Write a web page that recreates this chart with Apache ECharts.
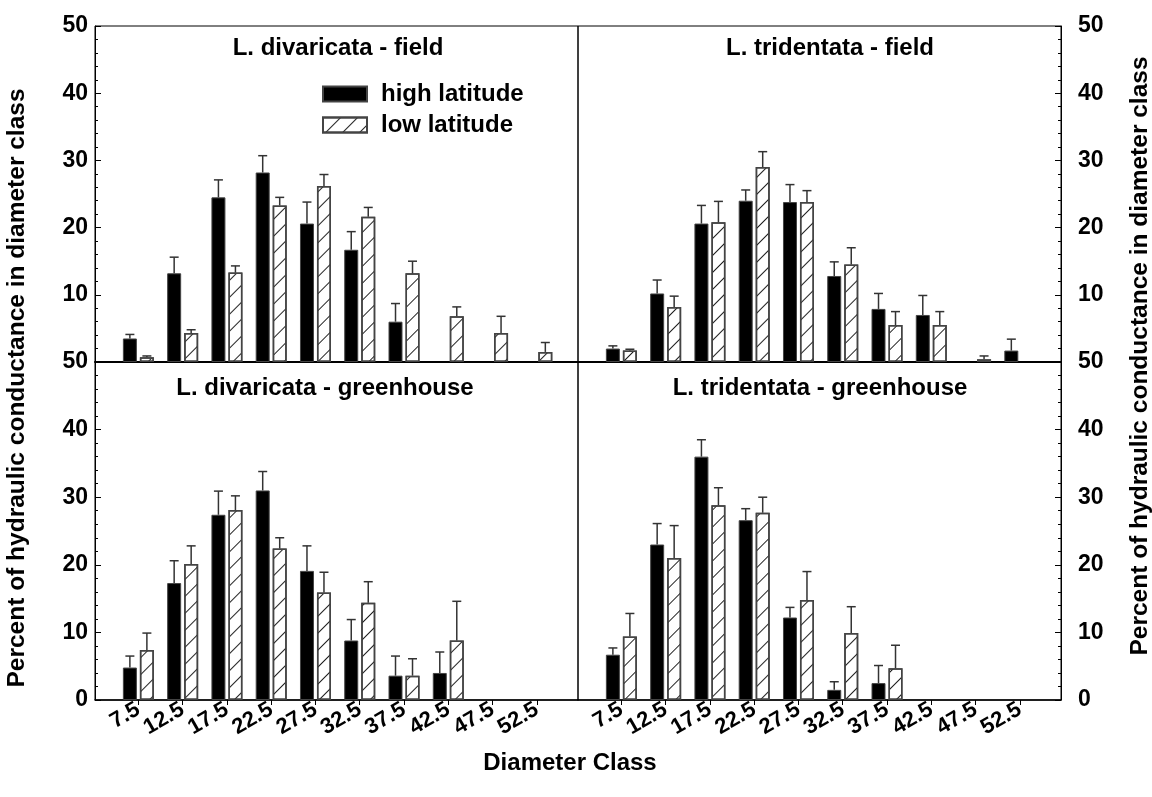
<!DOCTYPE html>
<html>
<head>
<meta charset="utf-8">
<script src="https://cdn.jsdelivr.net/npm/echarts@6/dist/echarts.min.js"></script>
<style>
  html, body { margin: 0; padding: 0; background: #fff; }
  #chart { width: 1152px; height: 797px; }
</style>
</head>
<body>
<div id="chart"></div>
<script>
// Vessel diameter classes (x axis tick labels)
const diameterClasses = [7.5, 12.5, 17.5, 22.5, 27.5, 32.5, 37.5, 42.5, 47.5, 52.5];
const seriesNames = ['high latitude', 'low latitude'];

// L. divaricata - field
const divFieldHigh    = [3.5, 13.2, 24.5, 28.2, 20.6, 16.7, 6.0, null, null, null];
const divFieldHighErr = [0.6, 2.4, 2.6, 2.5, 3.2, 2.7, 2.7, null, null, null];
const divFieldLow     = [0.7, 4.3, 13.3, 23.3, 26.2, 21.6, 13.2, 6.8, 4.3, 1.5];
const divFieldLowErr  = [0.2, 0.5, 1.0, 1.2, 1.7, 1.4, 1.8, 1.4, 2.5, 1.4];

// L. tridentata - field
const triFieldHigh    = [2.0, 10.2, 20.6, 24.0, 23.8, 12.8, 7.9, 7.0, null, 1.7];
const triFieldHighErr = [0.4, 2.0, 2.7, 1.6, 2.6, 2.1, 2.3, 2.9, null, 1.7];
const triFieldLow     = [1.7, 8.2, 20.8, 29.0, 23.8, 14.5, 5.5, 5.5, 0.4, null];
const triFieldLowErr  = [0.2, 1.6, 3.1, 2.3, 1.7, 2.5, 2.0, 2.0, 0.5, null];

// L. divaricata - greenhouse
const divGreenHigh    = [4.8, 17.3, 27.4, 31.0, 19.1, 8.8, 3.6, 4.0, null, null];
const divGreenHighErr = [1.7, 3.3, 3.5, 2.8, 3.7, 3.1, 2.9, 3.1, null, null];
const divGreenLow     = [7.4, 20.1, 28.1, 22.4, 15.9, 14.4, 3.6, 8.8, null, null];
const divGreenLowErr  = [2.5, 2.7, 2.1, 1.6, 3.0, 3.1, 2.5, 5.8, null, null];

// L. tridentata - greenhouse
const triGreenHigh    = [6.7, 23.0, 36.0, 26.6, 12.2, 1.5, 2.5, null, null, null];
const triGreenHighErr = [1.0, 3.1, 2.5, 1.7, 1.5, 1.2, 2.6, null, null, null];
const triGreenLow     = [9.4, 21.0, 28.8, 27.7, 14.8, 9.9, 4.7, null, null, null];
const triGreenLowErr  = [3.4, 4.8, 2.6, 2.3, 4.2, 3.9, 3.4, null, null, null];

const FONT = '"Liberation Sans", Arial, sans-serif';
const BAR_W = 14;
const BAR_GAP_PX = 3;

const panels = [
  { title: 'L. divaricata - field',      high: divFieldHigh, highErr: divFieldHighErr, low: divFieldLow, lowErr: divFieldLowErr, grid: { left: 95,  top: 26,  width: 483, height: 336 }, side: 'left',  top: true,  titlePos: [338, 48] },
  { title: 'L. tridentata - field',      high: triFieldHigh, highErr: triFieldHighErr, low: triFieldLow, lowErr: triFieldLowErr, grid: { left: 578, top: 26,  width: 483, height: 336 }, side: 'right', top: true,  titlePos: [830, 48] },
  { title: 'L. divaricata - greenhouse', high: divGreenHigh, highErr: divGreenHighErr, low: divGreenLow, lowErr: divGreenLowErr, grid: { left: 95,  top: 362, width: 483, height: 338 }, side: 'left',  top: false, titlePos: [325, 388] },
  { title: 'L. tridentata - greenhouse', high: triGreenHigh, highErr: triGreenHighErr, low: triGreenLow, lowErr: triGreenLowErr, grid: { left: 578, top: 362, width: 483, height: 338 }, side: 'right', top: false, titlePos: [820, 388] }
];

// Forward-slash hatching for the low latitude bars
const hatch = {
  symbol: 'rect',
  symbolSize: 1,
  color: '#222',
  dashArrayX: [1, 0],
  dashArrayY: [1, 11],
  rotation: -Math.PI / 4
};

const grids = [], xAxes = [], yAxes = [], series = [], graphics = [];

panels.forEach((p, i) => {
  grids.push(Object.assign({ show: true, borderColor: '#000', borderWidth: 1, backgroundColor: 'transparent' }, p.grid));

  xAxes.push({
    type: 'value', gridIndex: i, min: 2.6, max: 57.15,
    splitLine: { show: false },
    axisLine: { onZero: false, lineStyle: { color: '#000', width: p.top ? 2 : 1.5 } },
    axisTick: p.top ? { show: false } : { show: true, customValues: diameterClasses, length: 5, lineStyle: { color: '#000' } },
    axisLabel: p.top ? { show: false } : {
      show: true, customValues: diameterClasses, rotate: 30, margin: 8,
      fontSize: 22, fontWeight: 'bold', fontFamily: FONT, color: '#000'
    }
  });

  yAxes.push({
    type: 'value', gridIndex: i, min: 0, max: 50, interval: 10, position: p.side,
    splitLine: { show: false },
    axisLine: { show: true, lineStyle: { color: '#000', width: 1 } },
    axisTick: { show: true, inside: true, length: 6, lineStyle: { color: '#000' } },
    minorTick: { show: true, splitNumber: 5, length: 3, lineStyle: { color: '#000' } },
    axisLabel: {
      show: true, showMinLabel: !p.top, margin: p.side === 'left' ? 7 : 17,
      fontSize: 23, fontWeight: 'bold', fontFamily: FONT, color: '#000'
    }
  });

  series.push({
    name: seriesNames[0], type: 'bar', xAxisIndex: i, yAxisIndex: i,
    barWidth: BAR_W, barGap: (BAR_GAP_PX / BAR_W * 100) + '%',
    itemStyle: { color: '#000', borderColor: '#444', borderWidth: 1 },
    data: diameterClasses.map((d, j) => [d, p.high[j]])
  });
  series.push({
    name: seriesNames[1], type: 'bar', xAxisIndex: i, yAxisIndex: i,
    barWidth: BAR_W, barGap: (BAR_GAP_PX / BAR_W * 100) + '%',
    itemStyle: { color: '#fff', borderColor: '#444', borderWidth: 1.5, decal: hatch },
    data: diameterClasses.map((d, j) => [d, p.low[j]])
  });

  // Upper error whiskers, side -1 = high latitude bar, +1 = low latitude bar
  const errData = [];
  diameterClasses.forEach((d, j) => {
    if (p.high[j] != null && p.highErr[j] != null) errData.push([d, p.high[j], p.highErr[j], -1]);
    if (p.low[j] != null && p.lowErr[j] != null) errData.push([d, p.low[j], p.lowErr[j], 1]);
  });
  series.push({
    type: 'custom', xAxisIndex: i, yAxisIndex: i, z: 5,
    encode: { x: 0, y: 1 },
    data: errData,
    renderItem: (params, api) => {
      const x = api.value(0), y = api.value(1), e = api.value(2), s = api.value(3);
      const base = api.coord([x, y]);
      const tip = api.coord([x, y + e]);
      const cx = base[0] + s * (BAR_W + BAR_GAP_PX) / 2;
      const style = { stroke: '#333', lineWidth: 1.5 };
      return {
        type: 'group',
        children: [
          { type: 'line', shape: { x1: cx, y1: base[1], x2: cx, y2: tip[1] }, style },
          { type: 'line', shape: { x1: cx - 4.5, y1: tip[1], x2: cx + 4.5, y2: tip[1] }, style }
        ]
      };
    }
  });

  graphics.push({
    type: 'text', x: p.titlePos[0], y: p.titlePos[1],
    style: { text: p.title, font: 'bold 24px ' + FONT, fill: '#000', textAlign: 'center', textVerticalAlign: 'middle' }
  });
});

// Shared axis titles
graphics.push({
  type: 'text', x: 17, y: 388, rotation: Math.PI / 2,
  style: { text: 'Percent of hydraulic conductance in diameter class', font: 'bold 24.5px ' + FONT, fill: '#000', textAlign: 'center', textVerticalAlign: 'middle' }
});
graphics.push({
  type: 'text', x: 1140, y: 356, rotation: Math.PI / 2,
  style: { text: 'Percent of hydraulic conductance in diameter class', font: 'bold 24.5px ' + FONT, fill: '#000', textAlign: 'center', textVerticalAlign: 'middle' }
});
graphics.push({
  type: 'text', x: 570, y: 763,
  style: { text: 'Diameter Class', font: 'bold 24px ' + FONT, fill: '#000', textAlign: 'center', textVerticalAlign: 'middle' }
});

const chart = echarts.init(document.getElementById('chart'), null, { renderer: 'canvas' });
chart.setOption({
  animation: false,
  backgroundColor: '#fff',
  grid: grids,
  xAxis: xAxes,
  yAxis: yAxes,
  legend: {
    data: seriesNames, orient: 'vertical', left: 322, top: 82, padding: 0,
    itemWidth: 44, itemHeight: 15, itemGap: 7, selectedMode: false,
    icon: 'rect',
    textStyle: { fontSize: 24, fontWeight: 'bold', fontFamily: FONT, color: '#000', padding: [0, 0, 0, 9] }
  },
  graphic: graphics,
  series: series
});
</script>
</body>
</html>
